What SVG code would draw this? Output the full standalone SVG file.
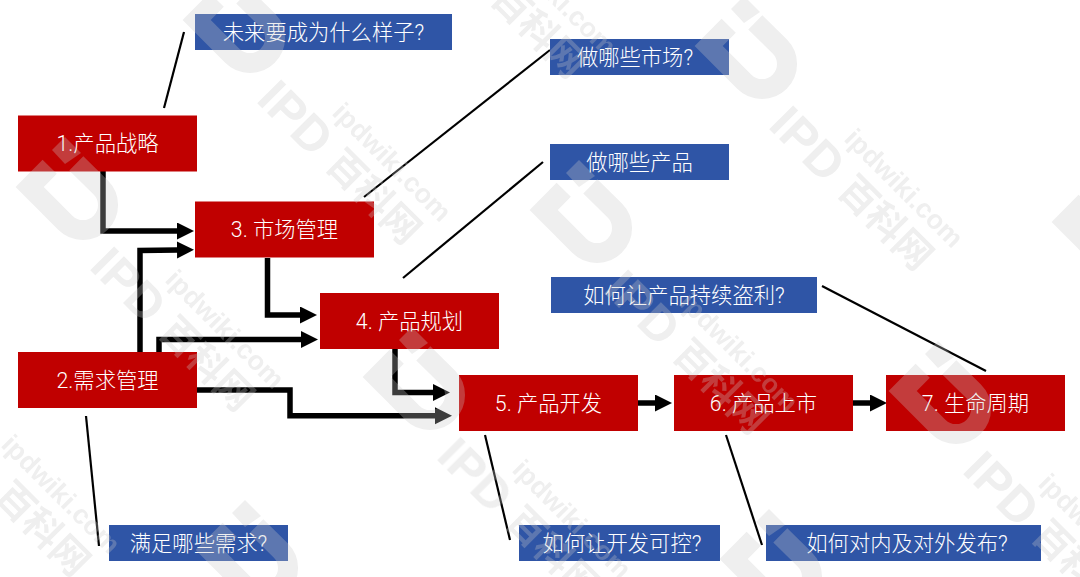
<svg xmlns="http://www.w3.org/2000/svg" xmlns:xlink="http://www.w3.org/1999/xlink" width="1080" height="577" viewBox="0 0 1080 577">
<style>
text{font-family:Roboto,"Noto Sans CJK SC",sans-serif;font-weight:300}
.n text,.q text{fill:#fff;font-size:21.3px;text-anchor:middle;dominant-baseline:central}
.n rect{fill:#c00000}
.q rect{fill:#2f55a6}
.flow{fill:none;stroke:#000;stroke-width:5.5;stroke-linejoin:miter;marker-end:url(#head)}
.lead{fill:none;stroke:#000;stroke-width:2.2}
.wu{fill:none;stroke:#c8c8c8;stroke-width:20}
.wf{fill:#c8c8c8}
.wm{opacity:.3}
</style>
<defs>
<marker id="head" markerUnits="userSpaceOnUse" markerWidth="18" markerHeight="18" refX="1" refY="8.5" orient="auto"><polygon points="0,0 17,8.5 0,17" fill="#000"/></marker>
<g id="mark">
<path class="wu" d="M-41.7-76.7L-17.3-52.7A25 25 0 0 1-52.7-17.3L-88.3-53L-68.3-73.3"/>
<polygon class="wf" points="-53,-103 -37,-87 -53,-76 -66,-90"/>
<text class="wf" transform="translate(-30,28) rotate(45)" font-size="49" style="font-weight:700;font-family:'Liberation Sans',sans-serif">IPD</text>
<text class="wf" transform="translate(39,93) rotate(45)" font-size="38" style="font-weight:700;font-family:'Noto Sans CJK SC',sans-serif">百科网</text>
<text class="wf" transform="translate(46,41) rotate(45)" font-size="27" style="font-weight:700;font-family:'Liberation Sans',sans-serif">ipdwiki.com</text>
</g>
</defs>
<rect width="1080" height="577" fill="#fff"/>
<g id="connectors">
<path class="flow" d="M103 171V231H178"/>
<path class="flow" d="M140 352V250.500L178 250"/>
<path class="flow" d="M267.500 258V315H301"/>
<path class="flow" d="M159 352V339.500H302"/>
<path class="flow" d="M395 349V392.500H434"/>
<path class="flow" d="M197 390H290V415.700H436"/>
<path class="flow" d="M638 403H656"/>
<path class="flow" d="M853 403H871"/>
<path class="lead" d="M164 108L184 32"/>
<path class="lead" d="M364 197L550 50"/>
<path class="lead" d="M403 278L543 162"/>
<path class="lead" d="M822 286L986 371"/>
<path class="lead" d="M86 416L99 546"/>
<path class="lead" d="M485 435L510 540"/>
<path class="lead" d="M726 435L762 545"/>
</g>
<g id="n1" class="n"><rect x="18" y="115.500" width="179" height="56"/><text x="107.500" y="143.500">1.产品战略</text></g>
<g id="n2" class="n"><rect x="18" y="352" width="179" height="56"/><text x="107.500" y="380">2.需求管理</text></g>
<g id="n3" class="n"><rect x="195" y="201.500" width="179" height="56"/><text x="284.500" y="229.500">3. 市场管理</text></g>
<g id="n4" class="n"><rect x="320" y="293" width="179" height="56"/><text x="409.500" y="321">4. 产品规划</text></g>
<g id="n5" class="n"><rect x="459" y="375" width="179" height="56"/><text x="548.500" y="403">5. 产品开发</text></g>
<g id="n6" class="n"><rect x="674" y="375" width="179" height="56"/><text x="763.500" y="403">6. 产品上市</text></g>
<g id="n7" class="n"><rect x="886" y="375" width="179" height="56"/><text x="975.500" y="403">7. 生命周期</text></g>
<g id="q1" class="q"><rect x="195" y="14" width="257" height="36"/><text x="323.500" y="32">未来要成为什么样子?</text></g>
<g id="q2" class="q"><rect x="550" y="39" width="179" height="36"/><text x="635" y="57">做哪些市场?</text></g>
<g id="q3" class="q"><rect x="550" y="144" width="179" height="36"/><text x="639.500" y="162">做哪些产品</text></g>
<g id="q4" class="q"><rect x="551" y="277" width="266" height="36"/><text x="684" y="295">如何让产品持续盗利?</text></g>
<g id="q5" class="q"><rect x="109" y="525" width="179" height="36"/><text x="198.500" y="543">满足哪些需求?</text></g>
<g id="q6" class="q"><rect x="519" y="525" width="201" height="36"/><text x="622" y="543">如何让开发可控?</text></g>
<g id="q7" class="q"><rect x="766" y="525" width="275" height="36"/><text x="907" y="543">如何对内及对外发布?</text></g>
<g id="watermark" class="wm">
<use xlink:href="#mark" href="#mark" x="285" y="73"/>
<use xlink:href="#mark" href="#mark" x="797" y="99"/>
<use xlink:href="#mark" href="#mark" x="118" y="240"/>
<use xlink:href="#mark" href="#mark" x="632" y="263"/>
<use xlink:href="#mark" href="#mark" x="1154" y="275"/>
<use xlink:href="#mark" href="#mark" x="465" y="430"/>
<use xlink:href="#mark" href="#mark" x="991" y="444"/>
<use xlink:href="#mark" href="#mark" x="298" y="603"/>
<use xlink:href="#mark" href="#mark" x="822" y="612"/>
<use xlink:href="#mark" href="#mark" x="-46" y="405"/>
<use xlink:href="#mark" href="#mark" x="450" y="-93"/>
</g>
</svg>
